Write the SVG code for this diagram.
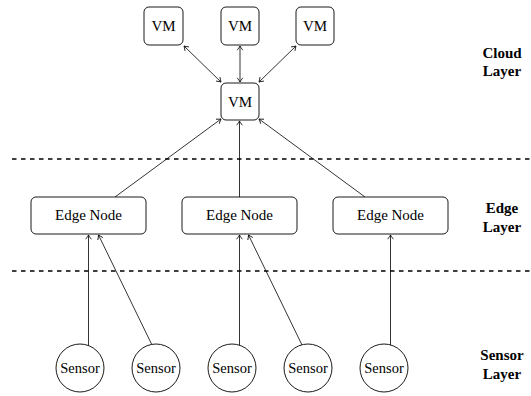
<svg xmlns="http://www.w3.org/2000/svg" width="531" height="396" viewBox="0 0 531 396">
<defs>
<marker id="ah" viewBox="-5 -4 6 8" markerWidth="6" markerHeight="8" refX="0" refY="0" orient="auto-start-reverse" markerUnits="userSpaceOnUse"><path d="M-4.2,-2.8 Q-1.5,-0.8 0,0 Q-1.5,0.8 -4.2,2.8" fill="none" stroke="#000" stroke-width="0.8"/></marker>
<style>
.box{fill:#fff;stroke:#000;stroke-width:0.9}
.t{font-family:"Liberation Serif","Times New Roman",serif;font-size:15px;text-anchor:middle;fill:#000}
.s{font-family:"Liberation Serif","Times New Roman",serif;font-size:14.5px;text-anchor:middle;fill:#000}
.lb{font-family:"Liberation Serif","Times New Roman",serif;font-size:15px;font-weight:bold;text-anchor:middle;fill:#000}
.c{stroke:#000;stroke-width:0.8;fill:none}
.a{marker-end:url(#ah)}
.d{marker-start:url(#ah);marker-end:url(#ah)}
.dash{stroke:#000;stroke-width:1.5;stroke-dasharray:4.5 4.5;fill:none}
</style>
</defs>
<rect width="531" height="396" fill="#fff"/>
<g id="separators">
<line class="dash" x1="12" y1="159" x2="531" y2="159"/>
<line class="dash" x1="12" y1="271" x2="531" y2="271"/>
</g>
<g id="connectors">
<line class="c d" x1="184" y1="46" x2="221" y2="82"/>
<line class="c d" x1="240" y1="46" x2="240" y2="82"/>
<line class="c d" x1="296" y1="46" x2="259" y2="82"/>
<line class="c a" x1="115" y1="197" x2="221" y2="119"/>
<line class="c a" x1="239.5" y1="197" x2="239.5" y2="121"/>
<line class="c a" x1="365" y1="197" x2="259" y2="119"/>
<line class="c a" x1="88.5" y1="350" x2="88.5" y2="235"/>
<line class="c a" x1="152" y1="345" x2="98.5" y2="235"/>
<line class="c a" x1="239.5" y1="350" x2="239.5" y2="235"/>
<line class="c a" x1="302" y1="345" x2="248.5" y2="235"/>
<line class="c a" x1="390.5" y1="350" x2="390.5" y2="235"/>
</g>
<g id="vm1"><rect class="box" x="144" y="7" width="39" height="38" rx="5"/><text class="t" x="163.5" y="31">VM</text></g>
<g id="vm2"><rect class="box" x="221" y="7" width="38" height="38" rx="5"/><text class="t" x="240" y="31">VM</text></g>
<g id="vm3"><rect class="box" x="296" y="7" width="38" height="38" rx="5"/><text class="t" x="315" y="31">VM</text></g>
<g id="vm-hub"><rect class="box" x="221" y="83" width="38" height="37" rx="5"/><text class="t" x="240" y="106.5">VM</text></g>
<g id="edge1"><rect class="box" x="31" y="197" width="115" height="37" rx="5"/><text class="t" x="88.5" y="220">Edge Node</text></g>
<g id="edge2"><rect class="box" x="182" y="197" width="115" height="37" rx="5"/><text class="t" x="239.5" y="220">Edge Node</text></g>
<g id="edge3"><rect class="box" x="333" y="197" width="115" height="37" rx="5"/><text class="t" x="390.5" y="220">Edge Node</text></g>
<g id="sensor1"><circle class="box" cx="80" cy="368" r="24"/><text class="s" x="80" y="373">Sensor</text></g>
<g id="sensor2"><circle class="box" cx="156" cy="368" r="24"/><text class="s" x="156" y="373">Sensor</text></g>
<g id="sensor3"><circle class="box" cx="232" cy="368" r="24"/><text class="s" x="232" y="373">Sensor</text></g>
<g id="sensor4"><circle class="box" cx="308" cy="368" r="24"/><text class="s" x="308" y="373">Sensor</text></g>
<g id="sensor5"><circle class="box" cx="384" cy="368" r="24"/><text class="s" x="384" y="373">Sensor</text></g>
<g id="labels">
<text class="lb" x="502" y="58">Cloud</text>
<text class="lb" x="502" y="76">Layer</text>
<text class="lb" x="502" y="213">Edge</text>
<text class="lb" x="502" y="232">Layer</text>
<text class="lb" x="502" y="360">Sensor</text>
<text class="lb" x="502" y="379">Layer</text>
</g>
</svg>
